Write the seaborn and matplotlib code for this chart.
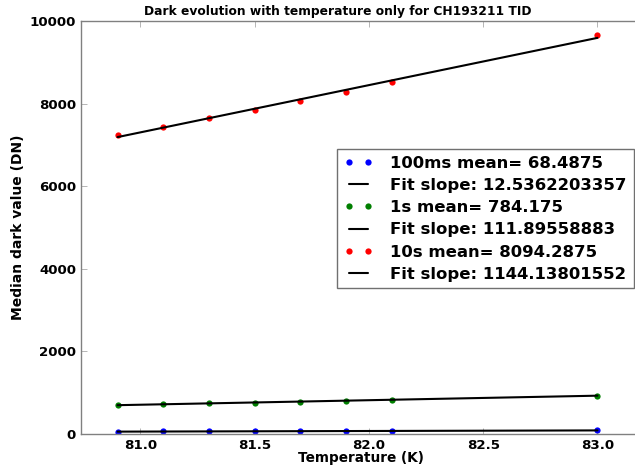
import numpy as np
import pandas as pd
import matplotlib
matplotlib.use("Agg")
import matplotlib.pyplot as plt
import seaborn as sns

# temperatures (K) and median dark values (DN) per integration time
temperature = [80.9, 81.1, 81.3, 81.5, 81.7, 81.9, 82.1, 83.0]
dark_100ms = [58, 61, 63, 66, 68, 71, 73, 88]
dark_1s = [700, 722, 742, 762, 782, 803, 832, 930]
dark_10s = [7250, 7440, 7640, 7850, 8070, 8290, 8530, 9650]

series_names = ["100ms", "1s", "10s"]
series_colors = ["#0000ff", "#007f00", "#ff0000"]
mean_labels = ["100ms mean= 68.4875", "1s mean= 784.175", "10s mean= 8094.2875"]
fit_labels = ["Fit slope: 12.5362203357", "Fit slope: 111.89558883", "Fit slope: 1144.13801552"]

sns.set_style("ticks")
plt.rcParams["font.family"] = ["DejaVu Sans"]
plt.rcParams["font.weight"] = "bold"
plt.rcParams["axes.labelweight"] = "bold"
plt.rcParams["text.color"] = "black"
plt.rcParams["axes.labelcolor"] = "black"

df = pd.DataFrame({"T": temperature, "100ms": dark_100ms, "1s": dark_1s, "10s": dark_10s})

fig = plt.figure(figsize=(6.35, 4.69), dpi=100)
ax = fig.add_axes([81 / 635, 35 / 469, 585 / 635, 413 / 469])

for name, color, mlab, flab in zip(series_names, series_colors, mean_labels, fit_labels):
    sns.lineplot(data=df, x="T", y=name, ax=ax, color=color, marker="o",
                 markersize=4.5, markeredgewidth=0, linestyle="", label=mlab)
    slope, icpt = np.polyfit(df["T"], df[name], 1)
    fit = pd.DataFrame({"T": df["T"], "fit": slope * df["T"] + icpt})
    sns.lineplot(data=fit, x="T", y="fit", ax=ax, color="black", linewidth=1.5, label=flab)

ax.set_xlim(80.74, 83.3)
ax.set_ylim(0, 10000)
ax.set_xticks([81.0, 81.5, 82.0, 82.5, 83.0])
ax.set_yticks([0, 2000, 4000, 6000, 8000, 10000])
ax.tick_params(direction="in", top=True, right=True, length=4, width=0.6,
               color="#aaaaaa", labelcolor="black", labelsize=9.6, pad=3.6)
for lab in ax.get_xticklabels() + ax.get_yticklabels():
    lab.set_fontweight("bold")
for sp in ax.spines.values():
    sp.set_color("#808080")
    sp.set_linewidth(1.0)

ax.set_xlabel("Temperature (K)", fontsize=9.8, fontweight="bold")
ax.set_ylabel("Median dark value (DN)", fontsize=10, fontweight="bold")
ax.xaxis.set_label_coords(0.479, -0.042)
ax.yaxis.set_label_coords(-0.096, 0.5)
fig.text(337.5 / 635, 0.962, "Dark evolution with temperature only for CH193211 TID",
         ha="center", va="bottom", fontsize=8.8, fontweight="bold")

leg = ax.legend(loc="upper left", bbox_to_anchor=(337 / 635, 1 - 149 / 469),
                bbox_transform=fig.transFigure, fontsize=11.85, numpoints=2,
                fancybox=False, framealpha=1, borderaxespad=0, handlelength=1.8,
                labelspacing=0.44, borderpad=0.4, handletextpad=1.05)
leg.get_frame().set_edgecolor("#707070")
leg.get_frame().set_linewidth(1.0)
for t in leg.get_texts():
    t.set_fontweight("bold")
    t.set_color("black")

fig.savefig("out.png", dpi=100)
